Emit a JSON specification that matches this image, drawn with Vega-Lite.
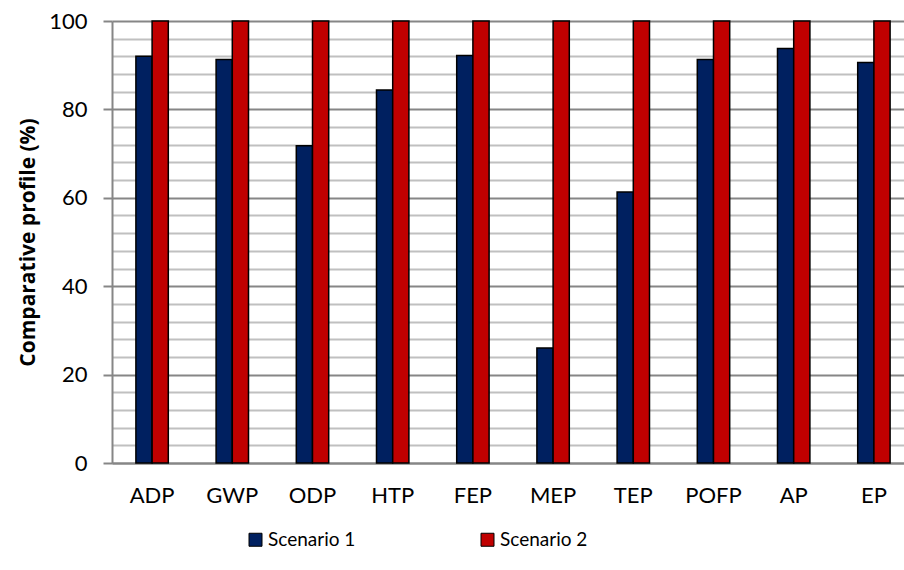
{
  "$schema": "https://vega.github.io/schema/vega-lite/v6.json",
  "width": 792,
  "height": 442,
  "autosize": {"type": "none"},
  "padding": {"left": 112, "top": 21, "right": 0, "bottom": 107},
  "config": {
    "font": "Lato",
    "view": {"stroke": null},
    "axis": {"labelFont": "Lato", "titleFont": "Open Sans", "labelColor": "#000", "titleColor": "#000"},
    "legend": {"labelFont": "Lato"}
  },
  "data": {
    "values": [
      {"category": "ADP", "scenario": "Scenario 1", "value": 92.0},
      {"category": "ADP", "scenario": "Scenario 2", "value": 100},
      {"category": "GWP", "scenario": "Scenario 1", "value": 91.3},
      {"category": "GWP", "scenario": "Scenario 2", "value": 100},
      {"category": "ODP", "scenario": "Scenario 1", "value": 71.8},
      {"category": "ODP", "scenario": "Scenario 2", "value": 100},
      {"category": "HTP", "scenario": "Scenario 1", "value": 84.4},
      {"category": "HTP", "scenario": "Scenario 2", "value": 100},
      {"category": "FEP", "scenario": "Scenario 1", "value": 92.2},
      {"category": "FEP", "scenario": "Scenario 2", "value": 100},
      {"category": "MEP", "scenario": "Scenario 1", "value": 26.0},
      {"category": "MEP", "scenario": "Scenario 2", "value": 100},
      {"category": "TEP", "scenario": "Scenario 1", "value": 61.3},
      {"category": "TEP", "scenario": "Scenario 2", "value": 100},
      {"category": "POFP", "scenario": "Scenario 1", "value": 91.3},
      {"category": "POFP", "scenario": "Scenario 2", "value": 100},
      {"category": "AP", "scenario": "Scenario 1", "value": 93.8},
      {"category": "AP", "scenario": "Scenario 2", "value": 100},
      {"category": "EP", "scenario": "Scenario 1", "value": 90.6},
      {"category": "EP", "scenario": "Scenario 2", "value": 100}
    ]
  },
  "mark": {"type": "bar", "stroke": "#000", "strokeWidth": 1.5},
  "encoding": {
    "x": {
      "field": "category",
      "type": "nominal",
      "sort": ["ADP", "GWP", "ODP", "HTP", "FEP", "MEP", "TEP", "POFP", "AP", "EP"],
      "scale": {"range": [0, 802], "paddingInner": 0.596, "paddingOuter": 0.298},
      "axis": {
        "title": null,
        "labelAngle": 0,
        "labelFontSize": 22,
        "labelPadding": 22,
        "ticks": false,
        "domainColor": "#868686",
        "domainWidth": 2,
        "grid": false
      }
    },
    "xOffset": {"field": "scenario", "type": "nominal", "scale": {"paddingInner": 0, "paddingOuter": 0}},
    "y": {
      "field": "value",
      "type": "quantitative",
      "scale": {"domain": [0, 100], "nice": false},
      "axis": {
        "title": "Comparative profile (%)",
        "titleFontSize": 21,
        "titleFontWeight": "bold",
        "titlePadding": 10,
        "values": [0, 4, 8, 12, 16, 20, 24, 28, 32, 36, 40, 44, 48, 52, 56, 60, 64, 68, 72, 76, 80, 84, 88, 92, 96, 100],
        "labelExpr": "datum.value % 20 === 0 ? datum.label : ''",
        "labelFontSize": 22,
        "labelPadding": 16,
        "tickSize": 9,
        "tickWidth": 2,
        "tickColor": "#868686",
        "tickOpacity": {"condition": {"test": "datum.value % 20 === 0", "value": 1}, "value": 0},
        "domainColor": "#868686",
        "domainWidth": 2,
        "grid": true,
        "gridWidth": 2,
        "gridColor": {"condition": {"test": "datum.value % 20 === 0", "value": "#868686"}, "value": "#C0C0C0"}
      }
    },
    "color": {
      "field": "scenario",
      "type": "nominal",
      "scale": {"domain": ["Scenario 1", "Scenario 2"], "range": ["#002060", "#C00000"]},
      "legend": {
        "title": null,
        "orient": "none",
        "legendX": 134,
        "legendY": 509,
        "direction": "horizontal",
        "columns": 2,
        "columnPadding": 122,
        "padding": 0,
        "symbolType": "square",
        "symbolSize": 169,
        "symbolStrokeColor": "#000",
        "symbolStrokeWidth": 1,
        "symbolOpacity": 1,
        "labelFontSize": 19,
        "labelOffset": 3,
        "labelLimit": 300
      }
    }
  }
}
